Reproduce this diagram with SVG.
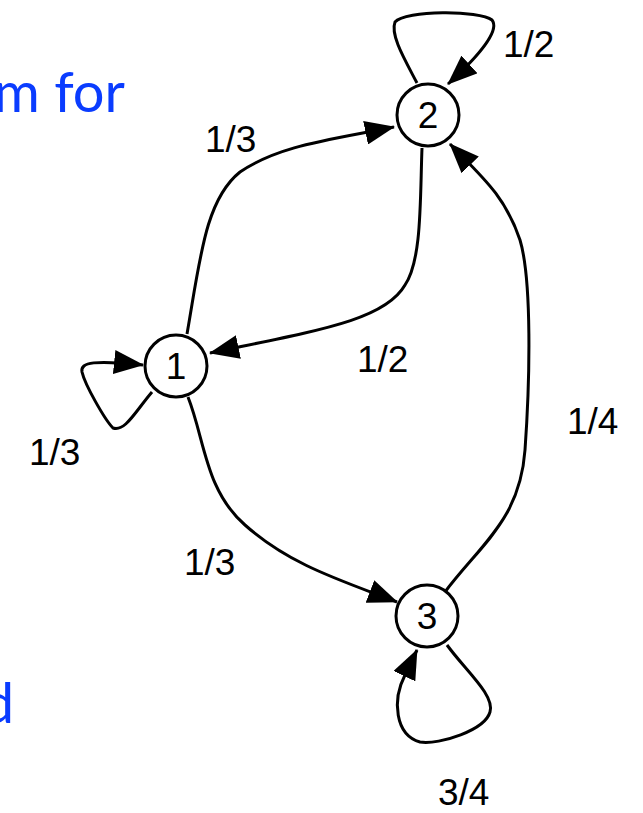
<svg xmlns="http://www.w3.org/2000/svg" width="643" height="813" viewBox="0 0 643 813">
<style>
.node circle{fill:#fff;stroke:#000;stroke-width:3}
.node text{font-family:"Liberation Sans",Arial,sans-serif;font-size:37px;text-anchor:middle;fill:#000}
.edge{fill:none;stroke:#000;stroke-width:3;marker-end:url(#arr)}
.lbl{font-family:"Liberation Sans",Arial,sans-serif;font-size:37px;fill:#000}
.blue{font-family:"Lato","Noto Sans",sans-serif;font-size:56px;fill:#0a3cff}
</style>
<defs>
<marker id="arr" viewBox="0 0 30 24" refX="29" refY="12" markerWidth="30" markerHeight="24" markerUnits="userSpaceOnUse" orient="auto">
<path d="M0,0 L30,12 L0,24 z" fill="#000"/>
</marker>
</defs>
<rect width="643" height="813" fill="#fff"/>
<text class="blue" x="125" y="112" text-anchor="end">m for</text>
<text class="blue" x="14" y="723" text-anchor="end">d</text>
<g id="connectors">
<path class="edge" d="M187,334 C200,260 205,200 240,172 C280,145 330,140 394,127"/>
<path class="edge" d="M422,148 C420,200 422,260 405,285 C385,320 320,330 210,353"/>
<path class="edge" d="M445,592 C480,545 520,520 525,450 C530,380 532,280 520,240 C505,195 480,175 450,144"/>
<path class="edge" d="M188,397 C205,440 205,490 245,525 C290,565 340,580 397,602"/>
<path class="edge" d="M417,83 C405,60 390,35 395,22 C405,10 480,10 492,20 C500,30 480,55 448,84"/>
<path class="edge" d="M152,392 C135,412 125,432 113,428 C105,420 85,385 82,372 C80,362 95,360 143,365"/>
<path class="edge" d="M447,645 C465,670 495,695 490,712 C485,730 440,745 420,742 C395,735 392,700 405,675 L417,650"/>
</g>
<g id="node1" class="node"><circle cx="176" cy="366" r="31"/><text x="176" y="379">1</text></g>
<g id="node2" class="node"><circle cx="428" cy="115" r="31"/><text x="428" y="128">2</text></g>
<g id="node3" class="node"><circle cx="427" cy="616" r="31"/><text x="427" y="629">3</text></g>
<g id="labels">
<text class="lbl" x="205" y="152">1/3</text>
<text class="lbl" x="503" y="57">1/2</text>
<text class="lbl" x="357" y="372">1/2</text>
<text class="lbl" x="567" y="434">1/4</text>
<text class="lbl" x="29" y="465">1/3</text>
<text class="lbl" x="184" y="575">1/3</text>
<text class="lbl" x="438" y="805">3/4</text>
</g>
</svg>
